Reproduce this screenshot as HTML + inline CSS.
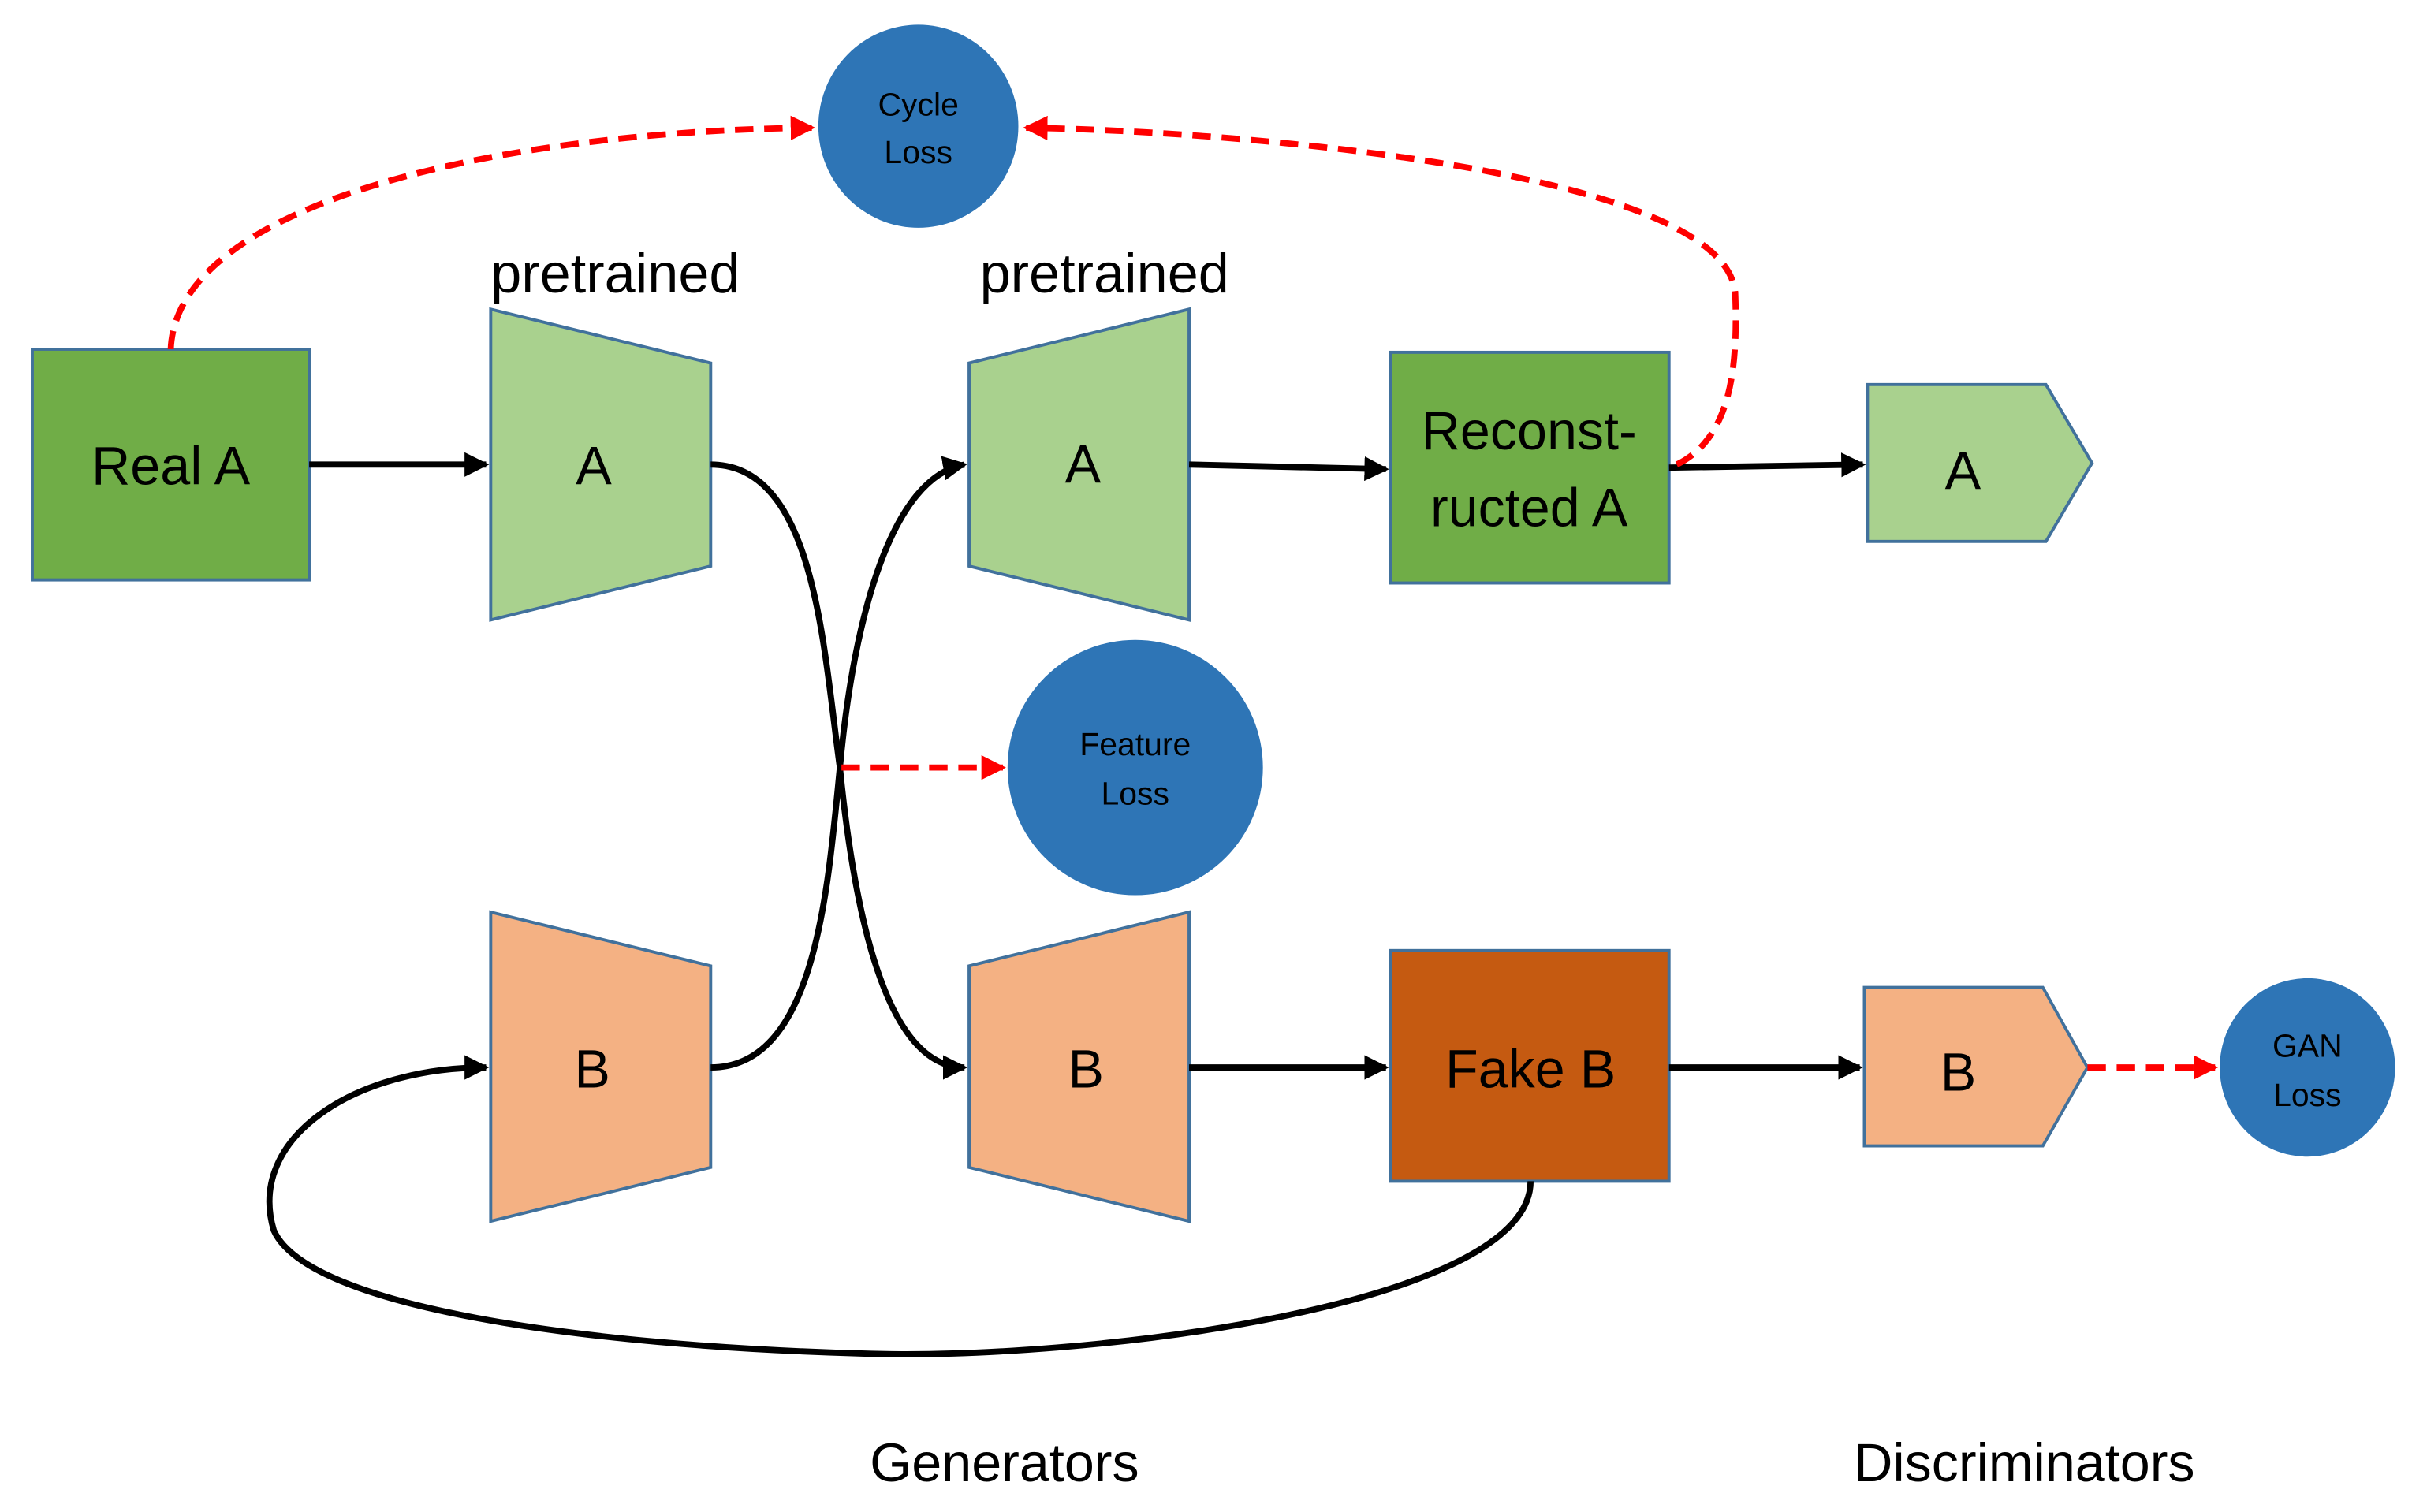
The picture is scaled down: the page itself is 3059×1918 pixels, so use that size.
<!DOCTYPE html>
<html><head><meta charset="utf-8"><style>
html,body{margin:0;padding:0;background:#fff;}
svg{display:block;}
text{font-family:"Liberation Sans",sans-serif;}
</style></head><body>
<svg width="3059" height="1918" viewBox="0 0 1568 983" xmlns="http://www.w3.org/2000/svg">
<defs>
<marker id="ab" markerWidth="4" markerHeight="4" refX="3.5" refY="2" orient="auto" markerUnits="strokeWidth"><path d="M0,0 L4,2 L0,4 z" fill="#000"/></marker>
<marker id="ar" markerWidth="4" markerHeight="4" refX="3.5" refY="2" orient="auto" markerUnits="strokeWidth"><path d="M0,0 L4,2 L0,4 z" fill="#f00"/></marker>
</defs>
<rect width="1568" height="983" fill="#fff"/>
<!-- shapes -->
<ellipse cx="597" cy="82" rx="65" ry="66" fill="#2E75B6"/>
<text x="597" y="75" font-size="21" text-anchor="middle">Cycle</text>
<text x="597" y="106" font-size="21" text-anchor="middle">Loss</text>

<text x="400" y="190" font-size="36" text-anchor="middle">pretrained</text>
<text x="718" y="190" font-size="36" text-anchor="middle">pretrained</text>

<rect x="21" y="227" width="180" height="150" fill="#70AD47" stroke="#41719C" stroke-width="2"/>
<text x="111" y="315" font-size="35" text-anchor="middle">Real A</text>

<polygon points="319,201 462,236 462,368 319,403" fill="#A9D18E" stroke="#41719C" stroke-width="2"/>
<text x="386" y="315" font-size="35" text-anchor="middle">A</text>
<polygon points="630,236 773,201 773,403 630,368" fill="#A9D18E" stroke="#41719C" stroke-width="2"/>
<text x="704" y="314" font-size="35" text-anchor="middle">A</text>

<rect x="904" y="229" width="181" height="150" fill="#70AD47" stroke="#41719C" stroke-width="2"/>
<text x="994" y="292" font-size="35" text-anchor="middle">Reconst-</text>
<text x="994" y="342" font-size="35" text-anchor="middle">ructed A</text>

<polygon points="1214,250 1330,250 1360,301 1330,352 1214,352" fill="#A9D18E" stroke="#41719C" stroke-width="2"/>
<text x="1276" y="318" font-size="35" text-anchor="middle">A</text>

<ellipse cx="738" cy="499" rx="83" ry="83" fill="#2E75B6"/>
<text x="738" y="491" font-size="21" text-anchor="middle">Feature</text>
<text x="738" y="523" font-size="21" text-anchor="middle">Loss</text>

<polygon points="319,593 462,628 462,759 319,794" fill="#F4B183" stroke="#41719C" stroke-width="2"/>
<text x="385" y="707" font-size="35" text-anchor="middle">B</text>
<polygon points="630,628 773,593 773,794 630,759" fill="#F4B183" stroke="#41719C" stroke-width="2"/>
<text x="706" y="707" font-size="35" text-anchor="middle">B</text>

<rect x="904" y="618" width="181" height="150" fill="#C55A11" stroke="#41719C" stroke-width="2"/>
<text x="995" y="707" font-size="35" text-anchor="middle">Fake B</text>

<polygon points="1212,642 1328,642 1357,694 1328,745 1212,745" fill="#F4B183" stroke="#41719C" stroke-width="2"/>
<text x="1273" y="709" font-size="35" text-anchor="middle">B</text>

<ellipse cx="1500" cy="694" rx="57" ry="58" fill="#2E75B6"/>
<text x="1500" y="687" font-size="21" text-anchor="middle">GAN</text>
<text x="1500" y="719" font-size="21" text-anchor="middle">Loss</text>

<text x="653" y="963" font-size="35" text-anchor="middle">Generators</text>
<text x="1316" y="963" font-size="35" text-anchor="middle">Discriminators</text>

<!-- black connectors -->
<g fill="none" stroke="#000" stroke-width="4">
<path d="M201,302 L316,302" marker-end="url(#ab)"/>
<path d="M462,302 C530,302 535,420 546,499 C555,590 575,694 627,694" marker-end="url(#ab)"/>
<path d="M462,694 C530,694 538,580 546,499 C555,400 580,310 627,302" marker-end="url(#ab)"/>
<path d="M773,302 L901,305" marker-end="url(#ab)"/>
<path d="M1085,304 L1211,302" marker-end="url(#ab)"/>
<path d="M773,694 L901,694" marker-end="url(#ab)"/>
<path d="M1085,694 L1209,694" marker-end="url(#ab)"/>
<path d="M995,768 C995,850 700,885 560,880 C380,875 200,850 178,800 C160,740 230,694 316,694" marker-end="url(#ab)"/>
</g>
<!-- red dashed -->
<g fill="none" stroke="#f00" stroke-width="4" stroke-dasharray="12,7">
<path d="M111,227 C115,130 330,85 528,83" marker-end="url(#ar)"/>
<path d="M1090,302 C1125,285 1130,240 1128,190 C1120,110 800,85 667,83" marker-end="url(#ar)"/>
<path d="M547,499 L652,499" marker-end="url(#ar)"/>
<path d="M1357,694 L1440,694" marker-end="url(#ar)"/>
</g>
</svg>
</body></html>
